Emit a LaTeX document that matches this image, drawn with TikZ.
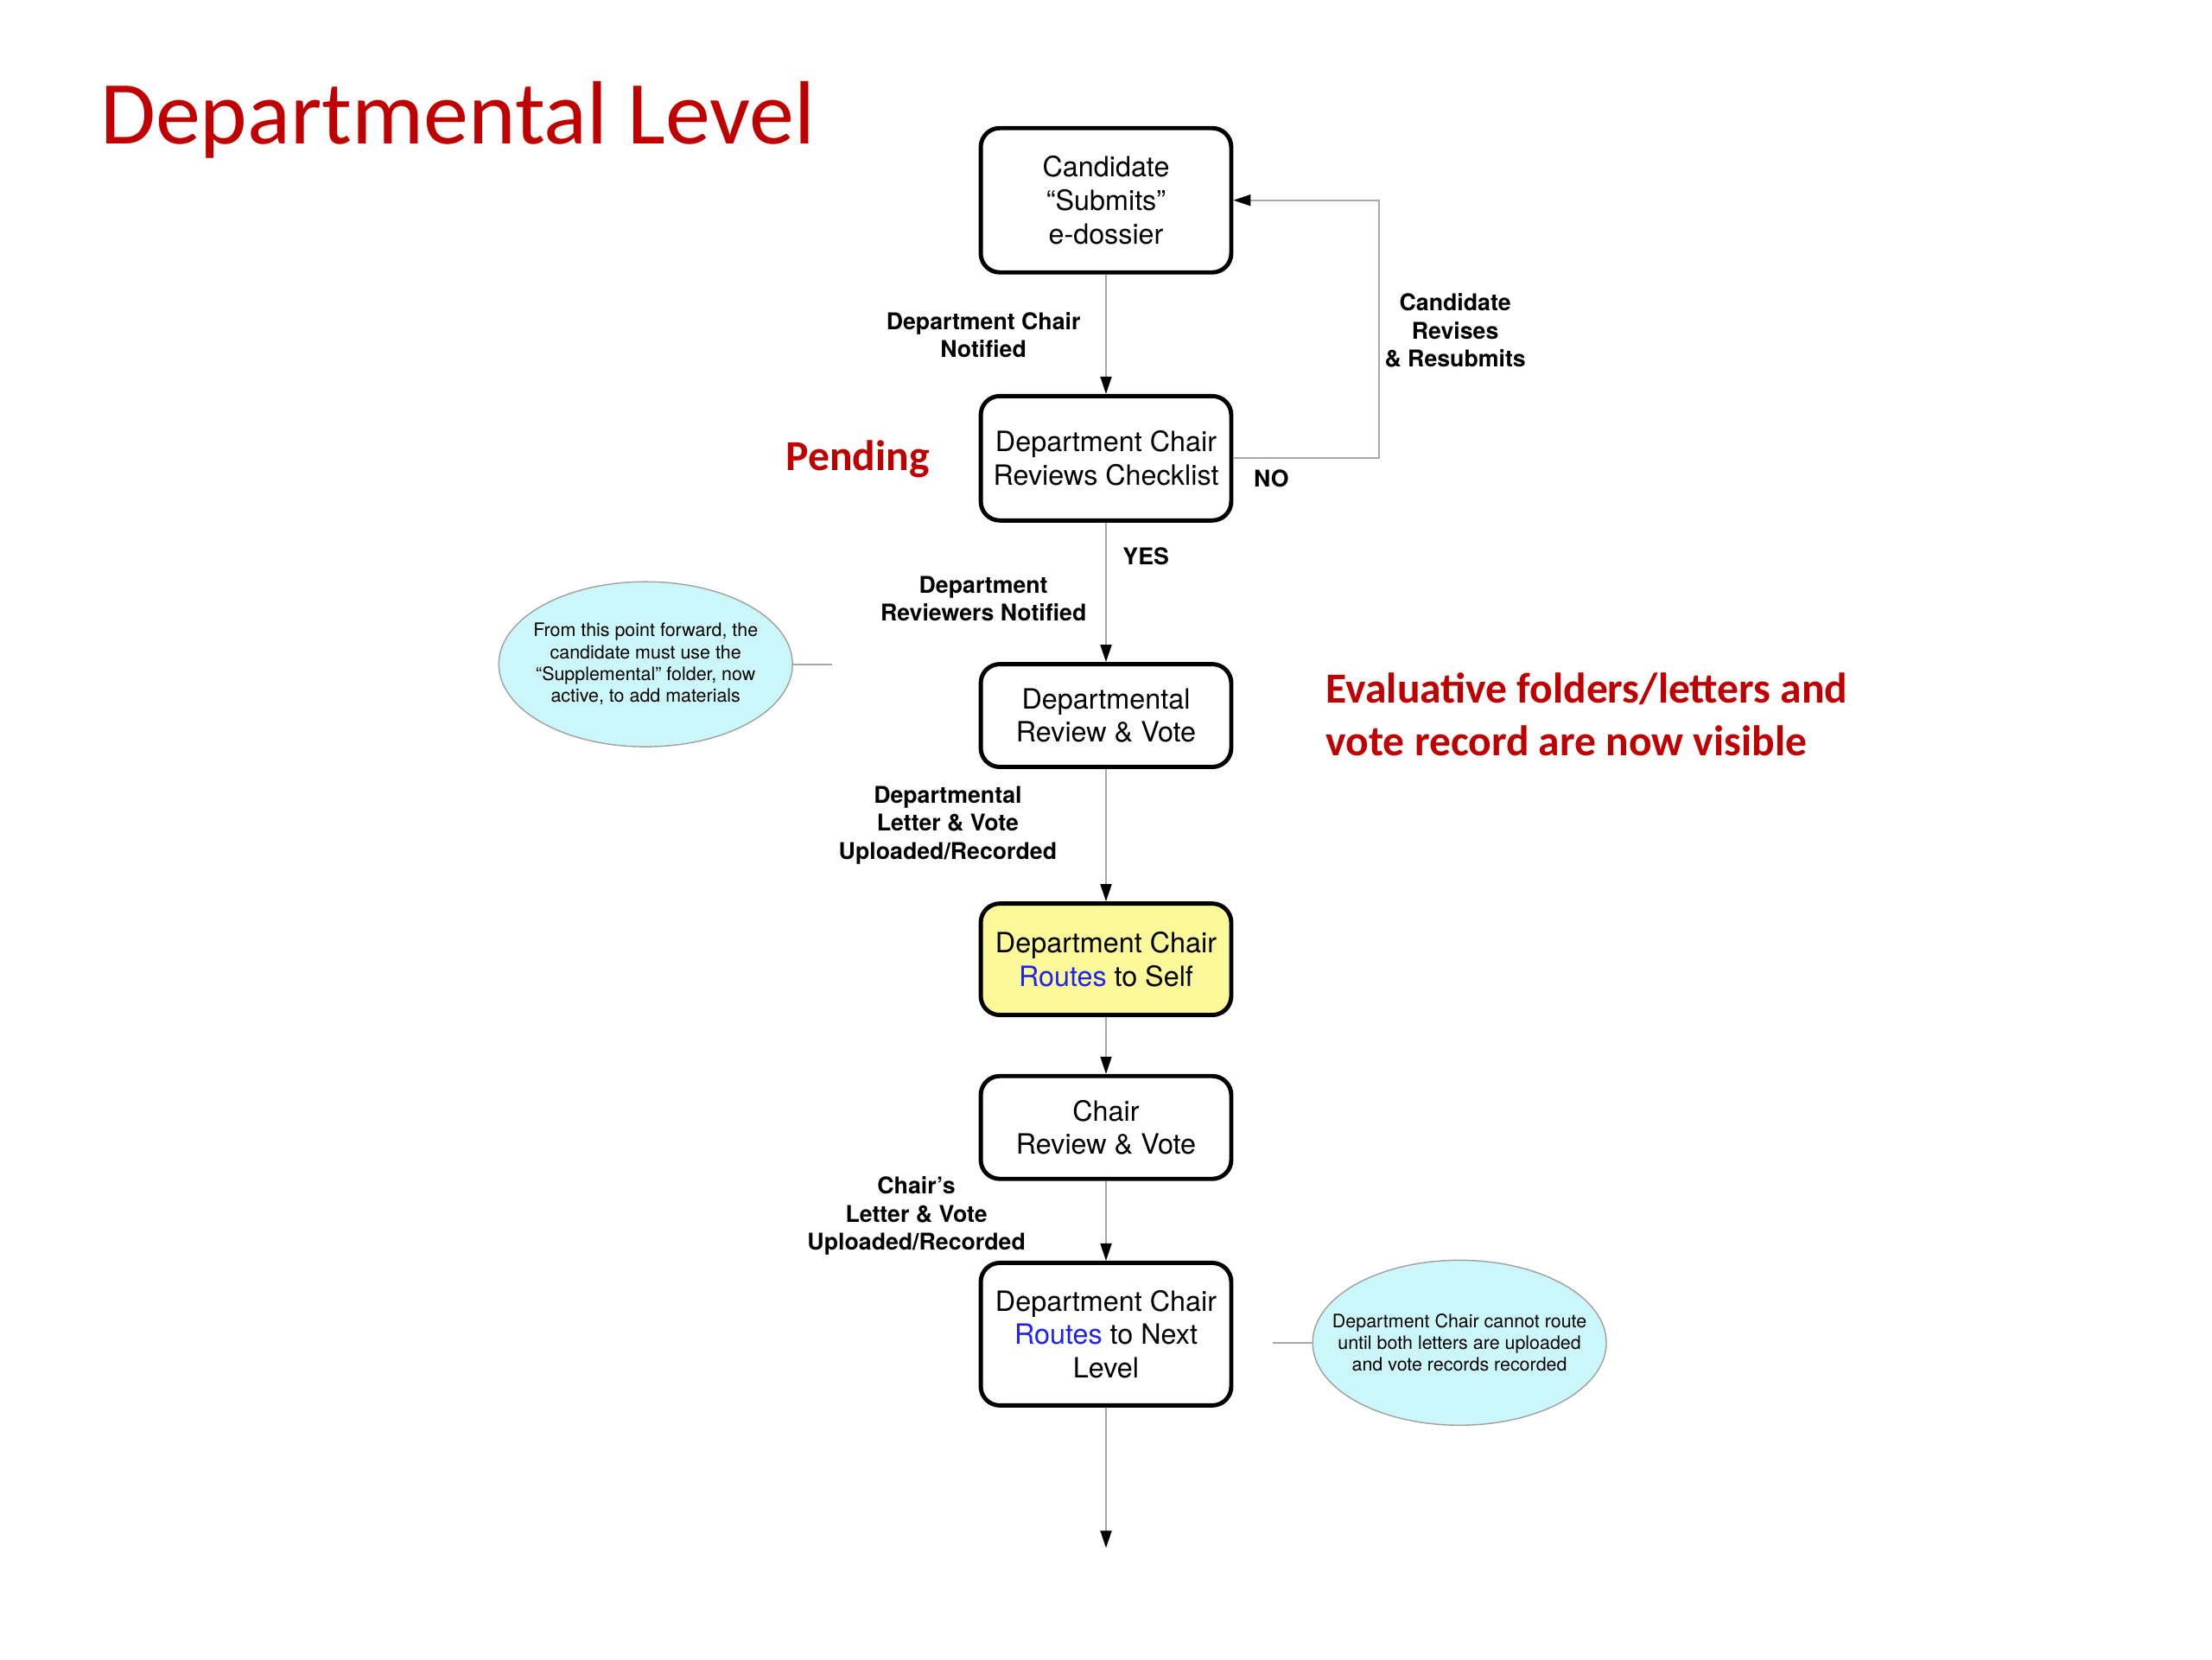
\documentclass[tikz,border=0pt]{standalone}
\usepackage{fontspec}
\setmainfont{TeX Gyre Heros}
\newfontfamily\calib{Carlito}
\usetikzlibrary{arrows.meta,shapes.geometric}
\definecolor{titred}{HTML}{C00000}
\definecolor{linegray}{HTML}{A8A8A8}
\definecolor{notefill}{HTML}{CCF7FA}
\definecolor{noteline}{HTML}{A0A0A0}
\definecolor{boxyellow}{HTML}{FCF99A}
\definecolor{routeblue}{HTML}{2222EE}
\begin{document}
\begin{tikzpicture}[x=0.165mm,y=-0.165mm,
  box/.style={draw=black, line width=1.4pt, rounded corners=2.2mm, fill=white,
    minimum width=29mm, align=center, inner sep=0pt,
    font=\fontsize{9.2}{11}\selectfont},
  lbl/.style={align=center, inner sep=0pt, font=\bfseries\fontsize{7.6}{9.3}\selectfont},
  note/.style={ellipse, draw=noteline, line width=0.4pt, fill=notefill,
    minimum width=34mm, minimum height=19.1mm, inner xsep=-3mm, inner ysep=0pt, align=center,
    font=\fontsize{6.1}{7.2}\selectfont},
  flow/.style={draw=linegray, line width=0.5pt,
    -{Triangle[length=2mm,width=1.3mm,color=black]}},
  tie/.style={draw=linegray, line width=0.5pt},
  redtxt/.style={text=titred, inner sep=0pt, align=left}
]
\useasboundingbox (0,0) rectangle (1552,1164);

% title and red notes
\node[redtxt, anchor=base west, font=\calib\fontsize{29.6}{34}\selectfont] (title) at (70,101) {Departmental Level};
\node[redtxt, anchor=base west, font=\calib\bfseries\fontsize{14.1}{17.3}\selectfont] (pending) at (551,330) {Pending};
\node[redtxt, anchor=base west, font=\calib\bfseries\fontsize{14.1}{17.3}\selectfont] (visible) at (930,530) {Evaluative folders/letters and\\vote record are now visible};

% boxes
\node[box, minimum height=16.7mm] (b1) at (776,140.5) {Candidate\\“Submits”\\e-dossier};
\node[box, minimum height=14.4mm] (b2) at (776,321.5) {Department Chair\\Reviews Checklist};
\node[box, minimum height=11.9mm] (b3) at (776,502) {Departmental\\Review \& Vote};
\node[box, minimum height=12.9mm, fill=boxyellow] (b4) at (776,673) {Department Chair\\\textcolor{routeblue}{Routes} to Self};
\node[box, minimum height=11.9mm] (b5) at (776,791) {Chair\\Review \& Vote};
\node[box, minimum height=16.5mm] (b6) at (776,936) {Department Chair\\\textcolor{routeblue}{Routes} to Next\\Level};
\coordinate (end) at (776,1086);

% notes
\node[note] (n1) at (453,466) {From this point forward, the\\candidate must use the\\“Supplemental” folder, now\\active, to add materials};
\coordinate (n1end) at (584,466);
\node[note] (n2) at (1024,942) {Department Chair cannot route\\until both letters are uploaded\\and vote records recorded};
\coordinate (n2end) at (893,942);
\draw[tie] (n1.east) -- (n1end);
\draw[tie] (n2end) -- (n2.west);

% connectors
\draw[flow] (b1) -- (b2);
\draw[flow] (b2) -- (b3);
\draw[flow] (b3) -- (b4);
\draw[flow] (b4) -- (b5);
\draw[flow] (b5) -- (b6);
\draw[flow] (b6) -- (end);
\draw[flow] (b2.east) -- ++(102,0) |- (b1.east);

% connector labels
\node[lbl] (l1) at (690,235) {Department Chair\\Notified};
\node[lbl] (l2) at (1021,232) {Candidate\\Revises\\\& Resubmits};
\node[lbl] (lno) at (892,336) {NO};
\node[lbl] (lyes) at (804,390) {YES};
\node[lbl] (l3) at (690,420) {Department\\Reviewers Notified};
\node[lbl] (l4) at (665,579) {Departmental\\Letter \& Vote\\Uploaded/Recorded};
\node[lbl] (l5) at (643,853) {Chair’s\\Letter \& Vote\\Uploaded/Recorded};
\end{tikzpicture}
\end{document}
